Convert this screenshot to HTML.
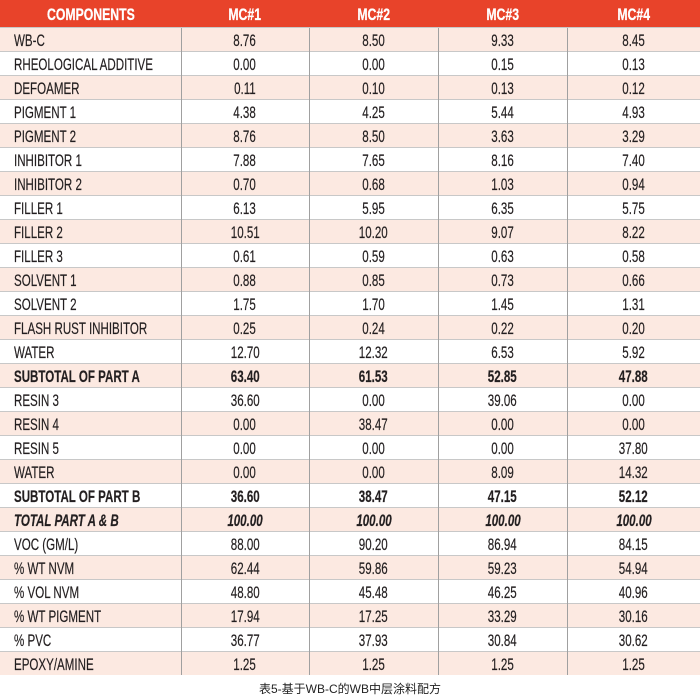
<!DOCTYPE html>
<html><head><meta charset="utf-8"><style>
body{margin:0;width:700px;height:700px;background:#fff;overflow:hidden;font-family:"Liberation Sans",sans-serif;color:#231f20}
table{position:absolute;left:0;top:0;border-collapse:collapse;width:700px;table-layout:fixed}
td,th{height:23px;padding:0;font-size:17px;text-align:center;border-left:1px solid #a0a0a0;border-top:1px solid #c8c8c8;white-space:nowrap;overflow:visible;-webkit-text-stroke:0.2px #231f20}
td:first-child,th:first-child{border-left:none}
td:first-child{text-align:left;padding-left:14px}
td span,th span{display:inline-block;transform:scaleX(0.68);transform-origin:center;position:relative;top:1px}
td:first-child span{transform-origin:left}
th{background:#e8432a;color:#fff;height:27px;border:none;font-weight:bold;font-size:17px;-webkit-text-stroke:0.3px #fff}
th span{transform:scaleX(0.72)}
tr:nth-child(even) td{background:#fce9e1}
.b td{font-weight:bold}
.i td{font-weight:bold;font-style:italic}
.cap{position:absolute;top:680px;left:0;width:700px;text-align:center;font-size:12px;font-family:"Liberation Sans","Noto Sans CJK SC",sans-serif;color:#222}
</style></head><body>
<table>
<colgroup><col style="width:181px"><col style="width:128px"><col style="width:129px"><col style="width:129px"><col style="width:133px"></colgroup>
<tr><th><span>COMPONENTS</span></th><th><span>MC#1</span></th><th><span>MC#2</span></th><th><span>MC#3</span></th><th><span>MC#4</span></th></tr>
<tr><td><span>WB-C</span></td><td><span>8.76</span></td><td><span>8.50</span></td><td><span>9.33</span></td><td><span>8.45</span></td></tr>
<tr><td><span>RHEOLOGICAL ADDITIVE</span></td><td><span>0.00</span></td><td><span>0.00</span></td><td><span>0.15</span></td><td><span>0.13</span></td></tr>
<tr><td><span>DEFOAMER</span></td><td><span>0.11</span></td><td><span>0.10</span></td><td><span>0.13</span></td><td><span>0.12</span></td></tr>
<tr><td><span>PIGMENT 1</span></td><td><span>4.38</span></td><td><span>4.25</span></td><td><span>5.44</span></td><td><span>4.93</span></td></tr>
<tr><td><span>PIGMENT 2</span></td><td><span>8.76</span></td><td><span>8.50</span></td><td><span>3.63</span></td><td><span>3.29</span></td></tr>
<tr><td><span>INHIBITOR 1</span></td><td><span>7.88</span></td><td><span>7.65</span></td><td><span>8.16</span></td><td><span>7.40</span></td></tr>
<tr><td><span>INHIBITOR 2</span></td><td><span>0.70</span></td><td><span>0.68</span></td><td><span>1.03</span></td><td><span>0.94</span></td></tr>
<tr><td><span>FILLER 1</span></td><td><span>6.13</span></td><td><span>5.95</span></td><td><span>6.35</span></td><td><span>5.75</span></td></tr>
<tr><td><span>FILLER 2</span></td><td><span>10.51</span></td><td><span>10.20</span></td><td><span>9.07</span></td><td><span>8.22</span></td></tr>
<tr><td><span>FILLER 3</span></td><td><span>0.61</span></td><td><span>0.59</span></td><td><span>0.63</span></td><td><span>0.58</span></td></tr>
<tr><td><span>SOLVENT 1</span></td><td><span>0.88</span></td><td><span>0.85</span></td><td><span>0.73</span></td><td><span>0.66</span></td></tr>
<tr><td><span>SOLVENT 2</span></td><td><span>1.75</span></td><td><span>1.70</span></td><td><span>1.45</span></td><td><span>1.31</span></td></tr>
<tr><td><span>FLASH RUST INHIBITOR</span></td><td><span>0.25</span></td><td><span>0.24</span></td><td><span>0.22</span></td><td><span>0.20</span></td></tr>
<tr><td><span>WATER</span></td><td><span>12.70</span></td><td><span>12.32</span></td><td><span>6.53</span></td><td><span>5.92</span></td></tr>
<tr class="b"><td><span>SUBTOTAL OF PART A</span></td><td><span>63.40</span></td><td><span>61.53</span></td><td><span>52.85</span></td><td><span>47.88</span></td></tr>
<tr><td><span>RESIN 3</span></td><td><span>36.60</span></td><td><span>0.00</span></td><td><span>39.06</span></td><td><span>0.00</span></td></tr>
<tr><td><span>RESIN 4</span></td><td><span>0.00</span></td><td><span>38.47</span></td><td><span>0.00</span></td><td><span>0.00</span></td></tr>
<tr><td><span>RESIN 5</span></td><td><span>0.00</span></td><td><span>0.00</span></td><td><span>0.00</span></td><td><span>37.80</span></td></tr>
<tr><td><span>WATER</span></td><td><span>0.00</span></td><td><span>0.00</span></td><td><span>8.09</span></td><td><span>14.32</span></td></tr>
<tr class="b"><td><span>SUBTOTAL OF PART B</span></td><td><span>36.60</span></td><td><span>38.47</span></td><td><span>47.15</span></td><td><span>52.12</span></td></tr>
<tr class="i"><td><span>TOTAL PART A &amp; B</span></td><td><span>100.00</span></td><td><span>100.00</span></td><td><span>100.00</span></td><td><span>100.00</span></td></tr>
<tr><td><span>VOC (GM/L)</span></td><td><span>88.00</span></td><td><span>90.20</span></td><td><span>86.94</span></td><td><span>84.15</span></td></tr>
<tr><td><span>% WT NVM</span></td><td><span>62.44</span></td><td><span>59.86</span></td><td><span>59.23</span></td><td><span>54.94</span></td></tr>
<tr><td><span>% VOL NVM</span></td><td><span>48.80</span></td><td><span>45.48</span></td><td><span>46.25</span></td><td><span>40.96</span></td></tr>
<tr><td><span>% WT PIGMENT</span></td><td><span>17.94</span></td><td><span>17.25</span></td><td><span>33.29</span></td><td><span>30.16</span></td></tr>
<tr><td><span>% PVC</span></td><td><span>36.77</span></td><td><span>37.93</span></td><td><span>30.84</span></td><td><span>30.62</span></td></tr>
<tr><td><span>EPOXY/AMINE</span></td><td><span>1.25</span></td><td><span>1.25</span></td><td><span>1.25</span></td><td><span>1.25</span></td></tr>
</table>
<div class="cap">表5-基于WB-C的WB中层涂料配方</div>
</body></html>
